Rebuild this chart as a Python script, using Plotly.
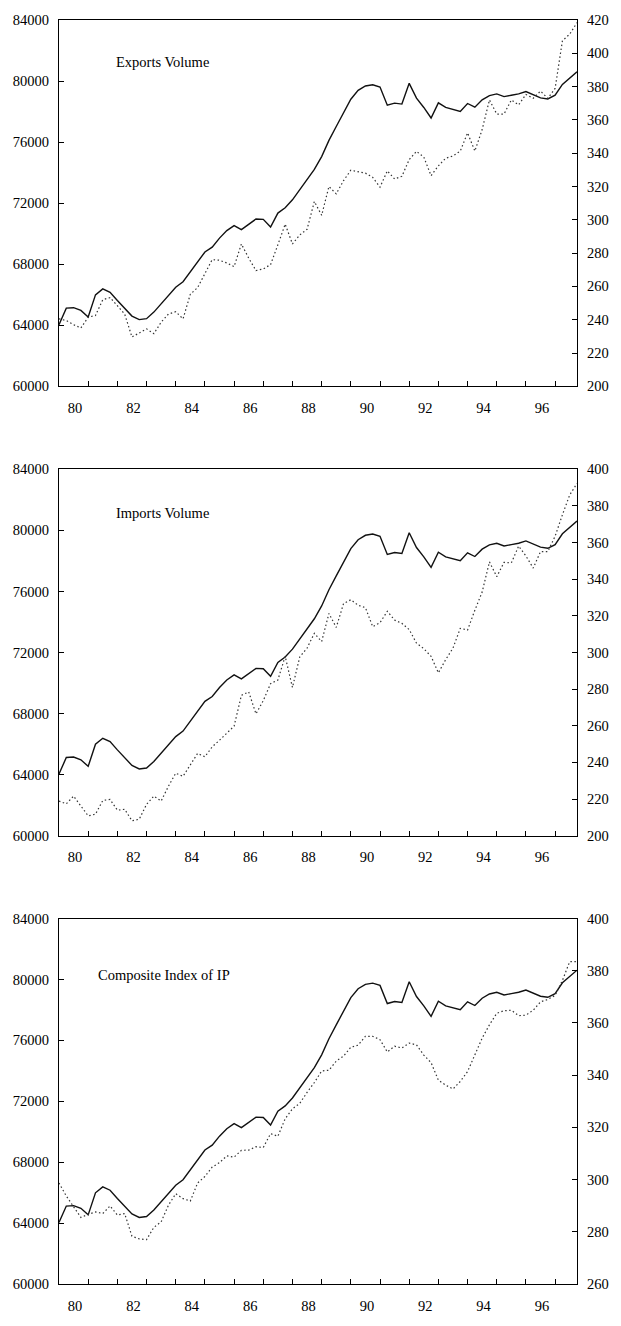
import pandas as pd
import plotly.graph_objects as go
from plotly.subplots import make_subplots

# Quarterly sample 1980Q1 - 1997Q4
periods = pd.period_range("1980Q1", "1997Q4", freq="Q")
quarters = [p.year + (p.quarter - 1) / 4 for p in periods]

# Left scale: real output (same series in every panel)
output = [64040, 65120, 65150, 64970, 64540, 65990, 66380, 66160, 65620, 65120,
          64600, 64370, 64430, 64860, 65400, 65950, 66490, 66850, 67500, 68150,
          68800, 69120, 69710, 70200, 70530, 70270, 70640, 70960, 70940, 70440,
          71350, 71700, 72220, 72870, 73560, 74210, 75050, 76110, 77020, 77950,
          78810, 79390, 79680, 79760, 79610, 78420, 78550, 78490, 79850, 78880,
          78270, 77580, 78570, 78270, 78140, 78010, 78530, 78290, 78770, 79050,
          79160, 78980, 79070, 79160, 79310, 79090, 78900, 78830, 79070, 79780,
          80190, 80610]

# Right scale: indicator series
exports_volume = [240.5, 239.5, 237, 235, 241.5, 242.5, 252, 253.3, 248.4, 243.4,
                  229.6, 232.2, 234.5, 231.6, 238.5, 243.4, 244.8, 240.5, 255.3, 259.3,
                  268.2, 276.1, 275.7, 274.1, 271.9, 285.5, 277, 269.5, 270.5, 273.1,
                  285, 297.4, 285.5, 290.9, 294.3, 311, 302.7, 320, 315.6, 323.5,
                  329.8, 328.8, 328, 325.5, 319.6, 329.4, 324.5, 326.1, 336.2, 341.1,
                  337.7, 326.5, 332.4, 337, 338.3, 341.3, 352.2, 341.3, 354.2, 372,
                  363.5, 363.5, 372, 369, 375.3, 373, 377.3, 373, 378.9, 407.5,
                  411.5, 418.4]

imports_volume = [218.9, 217.4, 221.6, 216.2, 210.8, 211.7, 219.2, 219.8, 213.9, 214.4,
                  208.1, 209, 217.1, 221.6, 218.9, 227, 234.1, 232.4, 238.6, 244.9,
                  243.1, 248.5, 252.1, 255.7, 259.8, 276.6, 278.5, 266.5, 273.7, 283,
                  285, 297.9, 280.9, 297.6, 302.4, 310.5, 306, 321.3, 313.7, 326.7,
                  328.8, 325.8, 324.5, 314.1, 316.3, 322.5, 317.7, 315.9, 312.5, 305.1,
                  302.1, 297.9, 288.9, 296.1, 302.4, 313.2, 312.3, 323.1, 333, 349.5,
                  341.4, 349.2, 348.9, 358.1, 352.7, 346.1, 355.1, 355.1, 363.5, 375.2,
                  386, 392.3]

composite_ip = [298.7, 293.7, 289.6, 285.5, 286.7, 287.6, 287, 289.9, 286.4, 287,
                278.3, 277.3, 277, 281.7, 283.8, 290.2, 294.6, 292.7, 291.8, 298.7,
                301.2, 304.8, 306.5, 309.1, 308.6, 311.2, 311.3, 312.6, 312.3, 317.6,
                316.6, 323.3, 327.1, 329.2, 333.4, 337.2, 341.6, 341.9, 345.4, 347.3,
                350.7, 351.5, 354.9, 354.9, 353.6, 348.9, 351.1, 350.4, 352.3, 351.6,
                347.7, 344.8, 338.1, 336.2, 334.7, 337.6, 341.4, 347.9, 354.2, 359.3,
                363.7, 364.7, 364.9, 362.8, 363, 364.9, 368.1, 369, 370.6, 376.3,
                383.5, 383.5]

panel_titles = ["Exports Volume", "Imports Volume", "Composite Index of IP"]
panel_series = [exports_volume, imports_volume, composite_ip]
right_ranges = [[200, 420], [200, 400], [260, 400]]

left_ticks = list(range(60000, 84001, 4000))
year_labels = [f"{y % 100:02d}" for y in range(1980, 1997, 2)]

# Layout of the three stacked panels
domains = [[0.7102, 1.0], [0.3547, 0.6445], [0.0, 0.2891]]
title_pos = [(0.106, 0.884), (0.106, 0.88), (0.0715, 0.845)]

FONT = "Liberation Serif"
FSIZE = 14.5

fig = make_subplots(rows=3, cols=1, specs=[[{"secondary_y": True}]] * 3)

for r in range(3):
    fig.add_trace(go.Scatter(x=quarters, y=output, mode="lines",
                             line=dict(color="#111111", width=1.4),
                             showlegend=False),
                  row=r + 1, col=1, secondary_y=False)
    fig.add_trace(go.Scatter(x=quarters, y=panel_series[r], mode="lines",
                             line=dict(color="#333333", width=1.2,
                                       dash="1.5px,2.5px"),
                             showlegend=False),
                  row=r + 1, col=1, secondary_y=True)

axis_common = dict(showline=True, linecolor="black", linewidth=1.3,
                   showgrid=False, zeroline=False, ticks="inside",
                   tickcolor="black", tickwidth=1, ticklen=5,
                   tickfont=dict(family=FONT, size=FSIZE, color="black"))

for r in range(3):
    xa = "xaxis" if r == 0 else f"xaxis{r + 1}"
    ya = f"yaxis{2 * r + 1}" if r > 0 else "yaxis"
    yb = f"yaxis{2 * r + 2}"
    fig.layout[xa].update(
        range=[1980, 1997.75], showline=True, linecolor="black", linewidth=1.3,
        mirror=True, showgrid=False, zeroline=False,
        tickmode="array", tickvals=[y + 0.55 for y in range(1980, 1997, 2)],
        ticktext=year_labels, ticks="", ticklabelstandoff=8,
        tickfont=dict(family=FONT, size=FSIZE, color="black"),
        minor=dict(tickmode="array", tickvals=list(range(1981, 1998)),
                   ticks="inside", ticklen=5, tickcolor="black", tickwidth=1,
                   showgrid=False),
    )
    fig.layout[ya].update(domain=domains[r], range=[60000, 84000],
                          tickmode="array", tickvals=left_ticks,
                          ticktext=[str(v) for v in left_ticks],
                          ticklabelstandoff=6, **axis_common)
    fig.layout[yb].update(domain=domains[r], range=right_ranges[r], dtick=20,
                          tick0=0, ticklabelstandoff=6, **axis_common)
    fig.layout[xa].domain = [0, 1]

    xref = "x domain" if r == 0 else f"x{r + 1} domain"
    yref = "y domain" if r == 0 else f"y{2 * r + 1} domain"
    fig.add_annotation(text=panel_titles[r], xref=xref, yref=yref,
                       x=title_pos[r][0], y=title_pos[r][1],
                       xanchor="left", yanchor="middle", showarrow=False,
                       font=dict(family=FONT, size=FSIZE, color="black"))

fig.update_layout(width=621, height=1326,
                  margin=dict(l=59, r=35, t=14, b=32),
                  paper_bgcolor="white", plot_bgcolor="white")

fig.write_html("out.html")
